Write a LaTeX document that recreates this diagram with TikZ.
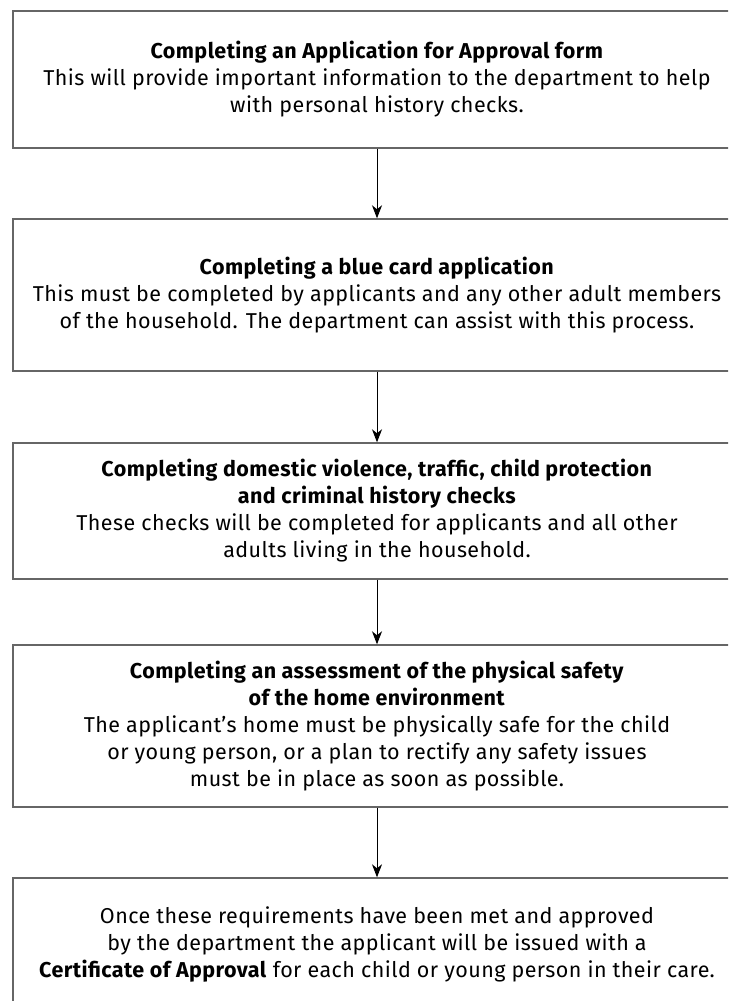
\documentclass[tikz,border=0pt]{standalone}
\usepackage{fontspec}
\setmainfont{Fira Sans}[LetterSpace=2]
\usetikzlibrary{arrows.meta}

\begin{document}
\begin{tikzpicture}[x=1pt,y=-1pt,
		stage/.style={draw=black!60, line width=1.4pt, minimum width=728pt, align=center,
			inner sep=0pt, font=\fontsize{21.5}{27}\selectfont},
		flow/.style={-{Stealth[length=13pt,width=10pt,inset=4pt]}, line width=0.9pt}]
		\clip (0,0) rectangle (728,1001);
		% the five steps
		\node[stage, minimum height=137pt] (form) at (377,79.5)
			{\textbf{Completing an Application for Approval form}\\
			This will provide important information to the department to help\\
			with personal history checks.};
		\node[stage, minimum height=152pt] (bluecard) at (377,295)
			{\textbf{Completing a blue card application}\\
			This must be completed by applicants and any other adult members\\
			of the household. The department can assist with this process.};
		\node[stage, minimum height=136pt] (checks) at (377,511)
			{\textbf{Completing domestic violence, traffic, child protection}\\
			\textbf{and criminal history checks}\\
			These checks will be completed for applicants and all other\\
			adults living in the household.};
		\node[stage, minimum height=162pt] (safety) at (377,726)
			{\textbf{Completing an assessment of the physical safety}\\
			\textbf{of the home environment}\\
			The applicant’s home must be physically safe for the child\\
			or young person, or a plan to rectify any safety issues\\
			must be in place as soon as possible.};
		\node[stage, minimum height=132pt] (certificate) at (377,944)
			{Once these requirements have been met and approved\\
			by the department the applicant will be issued with a\\
			\textbf{Certificate of Approval} for each child or young person in their care.};
		% arrows between steps
		\draw[flow] (form) -- (bluecard);
		\draw[flow] (bluecard) -- (checks);
		\draw[flow] (checks) -- (safety);
		\draw[flow] (safety) -- (certificate);
	\end{tikzpicture}
\end{document}
